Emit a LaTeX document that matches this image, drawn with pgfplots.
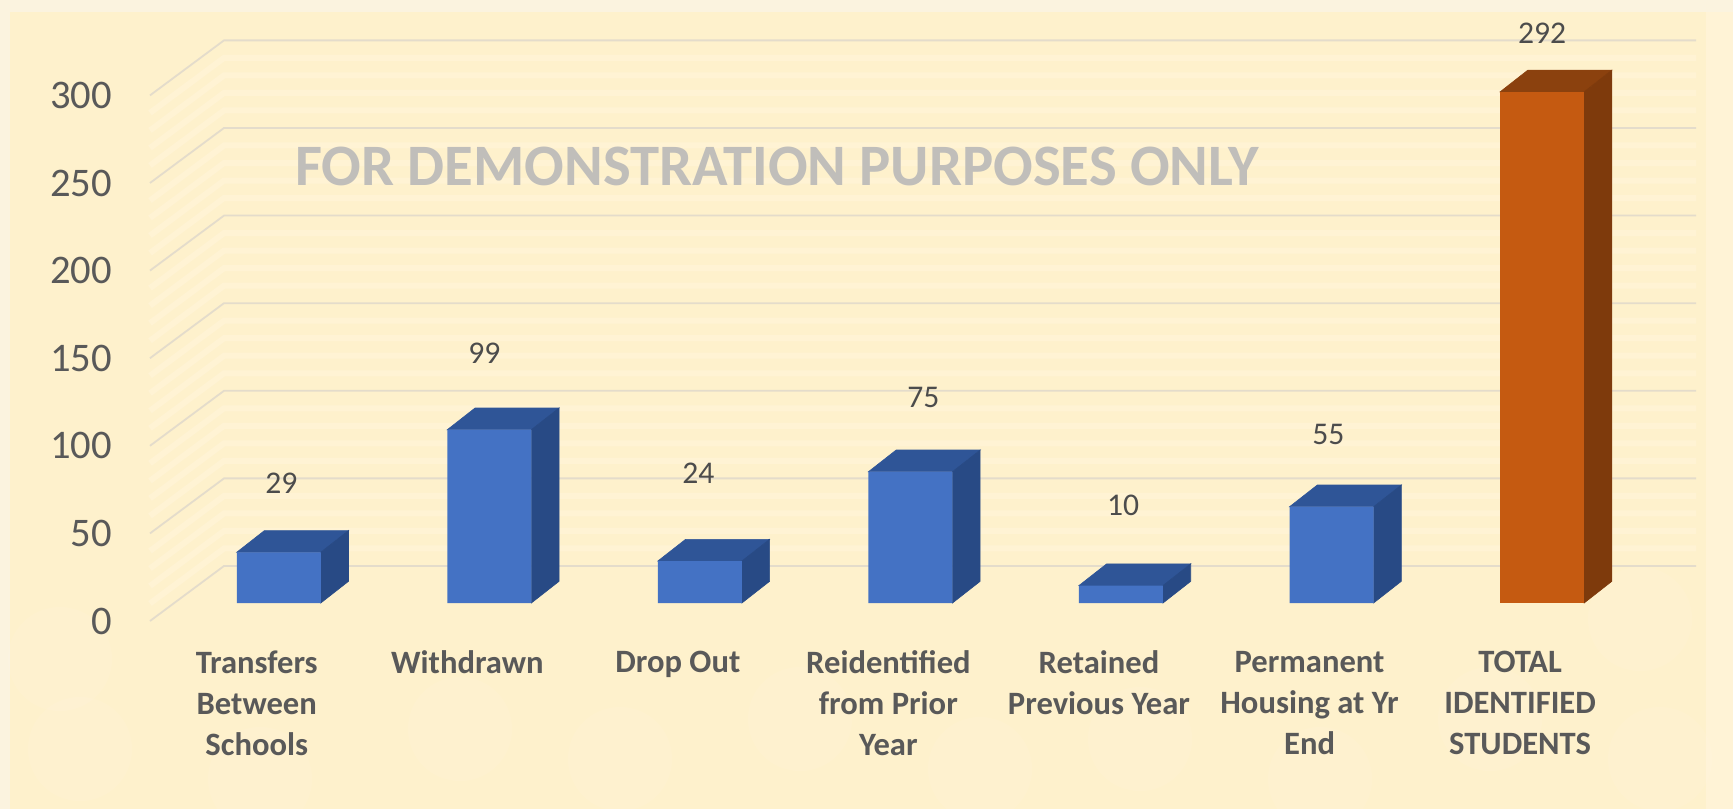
\documentclass[border=0pt]{standalone}
\usepackage{pgfplots}
\pgfplotsset{compat=1.18}
\usepackage{fontspec}
\setmainfont{Carlito}
\definecolor{bgout}{HTML}{FBF3DF}
\definecolor{bgin}{HTML}{FEF1CC}
\definecolor{bgright}{HTML}{FFF3D6}
\definecolor{gridc}{HTML}{E4DCCB}
\definecolor{minorc}{HTML}{FFF3D4}
\definecolor{txt}{HTML}{595959}
\definecolor{wm}{HTML}{C0BEBA}
\definecolor{bfront}{HTML}{4472C4}
\definecolor{btop}{HTML}{2F5597}
\definecolor{bside}{HTML}{284A85}
\definecolor{ofront}{HTML}{C55A11}
\definecolor{otop}{HTML}{8B410E}
\definecolor{oside}{HTML}{7E3A0C}
% one reference pixel = 0.5pt; axis box spans x 150..1696, y 39.5..621
\pgfplotsset{base/.style={
  at={(75pt,94pt)}, anchor=south west,
  scale only axis, width=773pt, height=290.75pt,
  xmin=-0.6115, xmax=6.731, clip=false,
  axis line style={draw=none}, major tick length=0pt,
  ticklabel style={text=txt}}}
\newcommand{\depthbar}[4]{%
  \pgfmathsetmacro\xl{#1-0.1995}\pgfmathsetmacro\xr{#1+0.1995}%
  \pgfmathsetmacro\xlb{#1-0.1995+0.1316}\pgfmathsetmacro\xrb{#1+0.1995+0.1316}%
  \pgfmathsetmacro\yb{#2+12.39}%
  \addplot[fill=#3,draw=#3,line width=0.3pt] coordinates {(\xl,#2) (\xr,#2) (\xrb,\yb) (\xlb,\yb)} --cycle;
  \addplot[fill=#4,draw=#4,line width=0.3pt] coordinates {(\xr,0) (\xrb,12.39) (\xrb,\yb) (\xr,#2)} --cycle;
}
\begin{document}
\begin{tikzpicture}[x=1pt,y=1pt]
\path[use as bounding box] (0,0) rectangle (866.5,404.5);
\fill[bgout] (0,0) rectangle (866.5,404.5);
\fill[bgin] (5,0) rectangle (866.5,398.5);
\fill[bgright] (853,0) rectangle (866.5,398.5);
\begin{scope}
\clip (0,0) rectangle (866.5,404.5);
\foreach \cx/\cy in {40/30,130/15,230/40,310/25,400/45,490/20,570/35,660/15,745/45,830/25,820/95,30/75}{
  \fill[white,opacity=0.07] (\cx,\cy) circle (26pt);
}
\end{scope}
% wall axis: the y ticks sit on the front edge of the side wall
\begin{axis}[base, ymin=0, ymax=331.9, xtick=\empty,
  ytick={0,50,100,150,200,250,300},
  yticklabel style={font=\fontsize{20.3}{24}\selectfont, xshift=-15.5pt},
  /pgf/number format/assume math mode=true]
\pgfplotsinvokeforeach{10,20,30,40,60,70,80,90,110,120,130,140,160,170,180,190,210,220,230,240,260,270,280,290}{
  \addplot[minorc,line width=3pt] coordinates {(-0.6115,#1) (-0.26,#1+31.4) (6.731,#1+31.4)};
}
\pgfplotsinvokeforeach{0,50,100,150,200,250,300}{
  \addplot[gridc,line width=0.9pt] coordinates {(-0.6115,#1) (-0.26,#1+31.4) (6.731,#1+31.4)};
}
\end{axis}
% bar axis: the same box, with y = 0 on the front floor line
\begin{axis}[base, ymin=-10.27, ymax=321.9,
  ytick=\empty, xtick={0,1,2,3,4,5,6},
  xticklabels={Transfers\\Between\\Schools,Withdrawn,Drop Out,Reidentified\\from Prior\\Year,Retained\\Previous Year,Permanent\\Housing at Yr\\End,TOTAL\\IDENTIFIED\\STUDENTS},
  xticklabel style={font=\fontsize{16.3}{20.5}\selectfont\bfseries, align=center, xshift=-11pt, anchor=north, yshift=-11.5pt}]
\depthbar{0}{29}{btop}{bside}
\depthbar{1}{99}{btop}{bside}
\depthbar{2}{24}{btop}{bside}
\depthbar{3}{75}{btop}{bside}
\depthbar{4}{10}{btop}{bside}
\depthbar{5}{55}{btop}{bside}
\depthbar{6}{292}{otop}{oside}
\addplot[ybar,bar width=42pt,bar shift=0pt,fill=bfront,draw=none] coordinates {(0,29) (1,99) (2,24) (3,75) (4,10) (5,55)};
\addplot[ybar,bar width=42pt,bar shift=0pt,fill=ofront,draw=none] coordinates {(6,292)};
\node[font=\fontsize{15.8}{18}\selectfont,text=txt!85!black] at (axis cs:0.012,68.5) {29};
\node[font=\fontsize{15.8}{18}\selectfont,text=txt!85!black] at (axis cs:0.977,142.4) {99};
\node[font=\fontsize{15.8}{18}\selectfont,text=txt!85!black] at (axis cs:1.993,74.1) {24};
\node[font=\fontsize{15.8}{18}\selectfont,text=txt!85!black] at (axis cs:3.062,117.7) {75};
\node[font=\fontsize{15.8}{18}\selectfont,text=txt!85!black] at (axis cs:4.01,55.9) {10};
\node[font=\fontsize{15.8}{18}\selectfont,text=txt!85!black] at (axis cs:4.985,96.2) {55};
\node[font=\fontsize{15.8}{18}\selectfont,text=txt!85!black] at (axis cs:6,325.3) {292};
\node[font=\fontsize{29.35}{32}\selectfont\bfseries,text=wm] at (axis cs:2.366,249.4) {FOR DEMONSTRATION PURPOSES ONLY};
\end{axis}
\end{tikzpicture}
\end{document}
